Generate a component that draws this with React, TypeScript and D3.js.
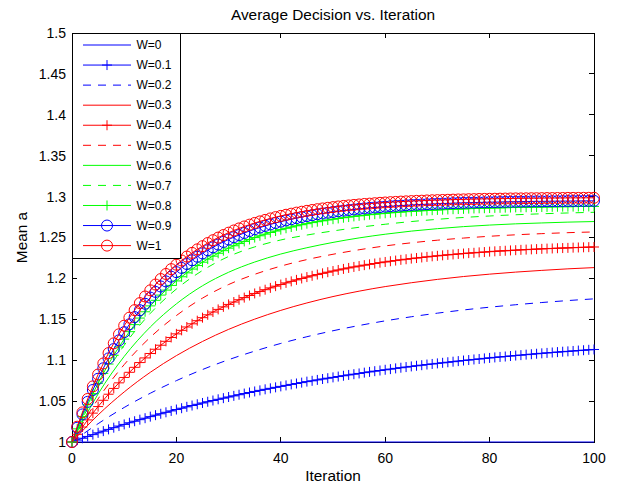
import React from "react";
import * as d3 from "d3";

// ---------- data ----------
const iterations = d3.range(0, 101);
const iterCoarse = d3.range(0, 101, 5);
const xTicks = [0, 20, 40, 60, 80, 100];
const yTicks = [1, 1.05, 1.1, 1.15, 1.2, 1.25, 1.3, 1.35, 1.4, 1.45, 1.5];
const yTickLabels = ["1", "1.05", "1.1", "1.15", "1.2", "1.25", "1.3", "1.35", "1.4", "1.45", "1.5"];
const xTickLabels = ["0", "20", "40", "60", "80", "100"];
const legendLabels = ["W=0", "W=0.1", "W=0.2", "W=0.3", "W=0.4", "W=0.5", "W=0.6", "W=0.7", "W=0.8", "W=0.9", "W=1"];

const w00 = [1, 1, 1, 1, 1, 1, 1, 1, 1, 1, 1, 1, 1, 1, 1, 1, 1, 1, 1, 1, 1];
const w02 = [1.0000, 1.0224, 1.0422, 1.0596, 1.0750, 1.0886, 1.1006, 1.1111, 1.1205, 1.1287, 1.1360, 1.1424, 1.1481, 1.1531, 1.1575, 1.1614, 1.1648, 1.1678, 1.1705, 1.1729, 1.1750];
const w03 = [1.0000, 1.0331, 1.0612, 1.0852, 1.1056, 1.1229, 1.1377, 1.1502, 1.1609, 1.1700, 1.1778, 1.1844, 1.1900, 1.1947, 1.1988, 1.2023, 1.2052, 1.2077, 1.2098, 1.2117, 1.2132];
const w05 = [1.0000, 1.0527, 1.0946, 1.1280, 1.1546, 1.1759, 1.1925, 1.2050, 1.2150, 1.2230, 1.2295, 1.2350, 1.2397, 1.2435, 1.2467, 1.2493, 1.2515, 1.2533, 1.2547, 1.2559, 1.2568];
const w06 = [1.0000, 1.0587, 1.1046, 1.1406, 1.1689, 1.1910, 1.2075, 1.2200, 1.2298, 1.2375, 1.2440, 1.2495, 1.2540, 1.2578, 1.2608, 1.2633, 1.2652, 1.2667, 1.2678, 1.2688, 1.2695];
const w07 = [1.0000, 1.0670, 1.1182, 1.1572, 1.1870, 1.2097, 1.2268, 1.2385, 1.2470, 1.2530, 1.2580, 1.2625, 1.2662, 1.2695, 1.2722, 1.2745, 1.2763, 1.2778, 1.2790, 1.2800, 1.2808];

const w01 = [1.0000, 1.0023, 1.0046, 1.0068, 1.0090, 1.0112, 1.0133, 1.0154, 1.0175, 1.0195,
  1.0215, 1.0235, 1.0254, 1.0273, 1.0291, 1.0310, 1.0328, 1.0345, 1.0363, 1.0380,
  1.0397, 1.0413, 1.0430, 1.0446, 1.0461, 1.0477, 1.0492, 1.0507, 1.0522, 1.0536,
  1.0550, 1.0564, 1.0578, 1.0592, 1.0605, 1.0618, 1.0631, 1.0644, 1.0656, 1.0668,
  1.0680, 1.0692, 1.0704, 1.0715, 1.0726, 1.0738, 1.0748, 1.0759, 1.0770, 1.0780,
  1.0790, 1.0800, 1.0810, 1.0820, 1.0829, 1.0838, 1.0848, 1.0857, 1.0866, 1.0874,
  1.0883, 1.0891, 1.0900, 1.0908, 1.0916, 1.0924, 1.0932, 1.0939, 1.0947, 1.0954,
  1.0961, 1.0968, 1.0975, 1.0982, 1.0989, 1.0996, 1.1002, 1.1009, 1.1015, 1.1022,
  1.1028, 1.1034, 1.1040, 1.1045, 1.1051, 1.1057, 1.1062, 1.1068, 1.1073, 1.1079,
  1.1084, 1.1089, 1.1094, 1.1099, 1.1104, 1.1108, 1.1113, 1.1118, 1.1122, 1.1127,
  1.1131];

const w04 = [1.0000, 1.0094, 1.0183, 1.0270, 1.0353, 1.0433, 1.0510, 1.0584, 1.0655, 1.0723,
  1.0789, 1.0852, 1.0913, 1.0971, 1.1028, 1.1082, 1.1134, 1.1183, 1.1231, 1.1278,
  1.1322, 1.1365, 1.1406, 1.1445, 1.1483, 1.1520, 1.1555, 1.1589, 1.1621, 1.1652,
  1.1682, 1.1711, 1.1739, 1.1765, 1.1791, 1.1816, 1.1839, 1.1862, 1.1884, 1.1905,
  1.1925, 1.1945, 1.1964, 1.1982, 1.1999, 1.2016, 1.2032, 1.2047, 1.2062, 1.2076,
  1.2090, 1.2103, 1.2116, 1.2128, 1.2140, 1.2151, 1.2162, 1.2172, 1.2182, 1.2192,
  1.2201, 1.2210, 1.2218, 1.2227, 1.2234, 1.2242, 1.2249, 1.2256, 1.2263, 1.2270,
  1.2276, 1.2282, 1.2288, 1.2293, 1.2299, 1.2304, 1.2309, 1.2313, 1.2318, 1.2322,
  1.2327, 1.2331, 1.2335, 1.2338, 1.2342, 1.2345, 1.2349, 1.2352, 1.2355, 1.2358,
  1.2361, 1.2364, 1.2366, 1.2369, 1.2371, 1.2373, 1.2376, 1.2378, 1.2380, 1.2382,
  1.2384];

const w08 = [1.0000, 1.0161, 1.0312, 1.0455, 1.0591, 1.0718, 1.0839, 1.0953, 1.1061, 1.1162,
  1.1258, 1.1349, 1.1435, 1.1515, 1.1592, 1.1664, 1.1732, 1.1796, 1.1857, 1.1914,
  1.1969, 1.2020, 1.2068, 1.2114, 1.2157, 1.2198, 1.2236, 1.2272, 1.2307, 1.2339,
  1.2370, 1.2399, 1.2426, 1.2452, 1.2476, 1.2499, 1.2521, 1.2541, 1.2561, 1.2579,
  1.2596, 1.2613, 1.2628, 1.2643, 1.2656, 1.2669, 1.2682, 1.2693, 1.2704, 1.2714,
  1.2724, 1.2733, 1.2742, 1.2750, 1.2758, 1.2765, 1.2772, 1.2779, 1.2785, 1.2791,
  1.2796, 1.2802, 1.2807, 1.2811, 1.2816, 1.2820, 1.2824, 1.2827, 1.2831, 1.2834,
  1.2837, 1.2840, 1.2843, 1.2846, 1.2848, 1.2850, 1.2853, 1.2855, 1.2857, 1.2858,
  1.2860, 1.2862, 1.2863, 1.2865, 1.2866, 1.2868, 1.2869, 1.2870, 1.2871, 1.2872,
  1.2873, 1.2874, 1.2875, 1.2876, 1.2877, 1.2877, 1.2878, 1.2879, 1.2879, 1.2880,
  1.2880];

const w09 = [1.0000, 1.0174, 1.0337, 1.0491, 1.0636, 1.0773, 1.0901, 1.1022, 1.1136, 1.1243,
  1.1343, 1.1438, 1.1527, 1.1611, 1.1690, 1.1765, 1.1835, 1.1901, 1.1963, 1.2021,
  1.2076, 1.2128, 1.2176, 1.2222, 1.2265, 1.2306, 1.2344, 1.2380, 1.2414, 1.2446,
  1.2476, 1.2504, 1.2530, 1.2555, 1.2579, 1.2601, 1.2622, 1.2641, 1.2660, 1.2677,
  1.2694, 1.2709, 1.2723, 1.2737, 1.2750, 1.2762, 1.2773, 1.2784, 1.2794, 1.2803,
  1.2812, 1.2821, 1.2829, 1.2836, 1.2843, 1.2850, 1.2856, 1.2862, 1.2867, 1.2872,
  1.2877, 1.2882, 1.2886, 1.2890, 1.2894, 1.2898, 1.2901, 1.2904, 1.2907, 1.2910,
  1.2913, 1.2915, 1.2917, 1.2920, 1.2922, 1.2924, 1.2926, 1.2927, 1.2929, 1.2930,
  1.2932, 1.2933, 1.2934, 1.2936, 1.2937, 1.2938, 1.2939, 1.2940, 1.2941, 1.2942,
  1.2942, 1.2943, 1.2944, 1.2944, 1.2945, 1.2946, 1.2946, 1.2947, 1.2947, 1.2948,
  1.2948];

const w10 = [1.0000, 1.0187, 1.0362, 1.0526, 1.0680, 1.0825, 1.0960, 1.1087, 1.1206, 1.1317,
  1.1422, 1.1520, 1.1612, 1.1698, 1.1779, 1.1854, 1.1925, 1.1992, 1.2054, 1.2113,
  1.2168, 1.2219, 1.2267, 1.2312, 1.2355, 1.2394, 1.2432, 1.2467, 1.2499, 1.2530,
  1.2559, 1.2586, 1.2611, 1.2635, 1.2657, 1.2678, 1.2697, 1.2715, 1.2733, 1.2749,
  1.2764, 1.2778, 1.2791, 1.2804, 1.2815, 1.2826, 1.2836, 1.2846, 1.2855, 1.2863,
  1.2871, 1.2879, 1.2886, 1.2892, 1.2898, 1.2904, 1.2910, 1.2914, 1.2919, 1.2924,
  1.2928, 1.2932, 1.2935, 1.2939, 1.2942, 1.2945, 1.2948, 1.2950, 1.2953, 1.2955,
  1.2957, 1.2959, 1.2961, 1.2963, 1.2965, 1.2966, 1.2968, 1.2969, 1.2971, 1.2972,
  1.2973, 1.2974, 1.2975, 1.2976, 1.2977, 1.2978, 1.2978, 1.2979, 1.2980, 1.2980,
  1.2981, 1.2982, 1.2982, 1.2983, 1.2983, 1.2984, 1.2984, 1.2984, 1.2985, 1.2985,
  1.2985];

// ---------- styles ----------
const BLUE = "#0000ff";
const RED = "#ff0000";
const GREEN = "#00ff00";
const FONT = "'Liberation Sans', Arial, Helvetica, sans-serif";

type Series = { label: string; color: string; dash: string | null; marker: "none" | "plus" | "circle"; xs: number[]; ys: number[] };

const seriesList: Series[] = [
  { label: legendLabels[0], color: BLUE, dash: null, marker: "none", xs: iterCoarse, ys: w00 },
  { label: legendLabels[1], color: BLUE, dash: null, marker: "plus", xs: iterations, ys: w01 },
  { label: legendLabels[2], color: BLUE, dash: "8,7", marker: "none", xs: iterCoarse, ys: w02 },
  { label: legendLabels[3], color: RED, dash: null, marker: "none", xs: iterCoarse, ys: w03 },
  { label: legendLabels[4], color: RED, dash: null, marker: "plus", xs: iterations, ys: w04 },
  { label: legendLabels[5], color: RED, dash: "8,7", marker: "none", xs: iterCoarse, ys: w05 },
  { label: legendLabels[6], color: GREEN, dash: null, marker: "none", xs: iterCoarse, ys: w06 },
  { label: legendLabels[7], color: GREEN, dash: "8,7", marker: "none", xs: iterCoarse, ys: w07 },
  { label: legendLabels[8], color: GREEN, dash: null, marker: "plus", xs: iterations, ys: w08 },
  { label: legendLabels[9], color: BLUE, dash: null, marker: "circle", xs: iterations, ys: w09 },
  { label: legendLabels[10], color: RED, dash: null, marker: "circle", xs: iterations, ys: w10 },
];

const W = 624;
const H = 486;
const X0 = 72, X1 = 594, Y0 = 442, Y1 = 33;

const x = d3.scaleLinear().domain([0, 100]).range([X0, X1]);
const y = d3.scaleLinear().domain([1, 1.5]).range([Y0, Y1]);

const PLUS = 5;
const CIRC = 5.5;

function Marker({ kind, cx, cy, color }: { kind: string; cx: number; cy: number; color: string }) {
  if (kind === "plus") {
    return (
      <g stroke={color} strokeWidth={1}>
        <line x1={cx - PLUS} x2={cx + PLUS} y1={cy} y2={cy} />
        <line x1={cx} x2={cx} y1={cy - PLUS} y2={cy + PLUS} />
      </g>
    );
  }
  if (kind === "circle") {
    return <circle cx={cx} cy={cy} r={CIRC} fill="none" stroke={color} strokeWidth={1} />;
  }
  return null;
}

export default function App() {
  const legX = X0, legY = Y1, legW = 108, legH = 225;
  const rowH = 20.06;
  return (
    <svg width={W} height={H} viewBox={`0 0 ${W} ${H}`} style={{ position: "absolute", left: 0, top: 0, display: "block" }} fontFamily={FONT}>
      <rect x={0} y={0} width={W} height={H} fill="#fff" />
      <text x={(X0 + X1) / 2} y={20} textAnchor="middle" fontSize={15.4} fill="#000">Average Decision vs. Iteration</text>

      {/* axes box and ticks */}
      <g stroke="#000" strokeWidth={1} shapeRendering="crispEdges" fill="none">
        <rect x={X0} y={Y1} width={X1 - X0} height={Y0 - Y1} />
        {xTicks.map((t) => (
          <g key={"xt" + t}>
            <line x1={x(t)} x2={x(t)} y1={Y0} y2={Y0 - 5} />
            <line x1={x(t)} x2={x(t)} y1={Y1} y2={Y1 + 5} />
          </g>
        ))}
        {yTicks.map((t) => (
          <g key={"yt" + t}>
            <line x1={X0} x2={X0 + 5} y1={y(t)} y2={y(t)} />
            <line x1={X1} x2={X1 - 5} y1={y(t)} y2={y(t)} />
          </g>
        ))}
      </g>
      {xTicks.map((t, i) => (
        <text key={"xl" + t} x={x(t)} y={463} textAnchor="middle" fontSize={14} fill="#000">{xTickLabels[i]}</text>
      ))}
      {yTicks.map((t, i) => (
        <text key={"yl" + t} x={X0 - 6} y={y(t)} dy="0.35em" textAnchor="end" fontSize={14} fill="#000">{yTickLabels[i]}</text>
      ))}
      <text x={(X0 + X1) / 2} y={481} textAnchor="middle" fontSize={15.4} fill="#000">Iteration</text>
      <text transform={`translate(27, ${(Y0 + Y1) / 2}) rotate(-90)`} textAnchor="middle" fontSize={15.4} fill="#000">Mean a</text>

      {/* series */}
      {seriesList.map((s, si) => {
        const pts = s.xs.map((t, i) => [t, s.ys[i]] as [number, number]);
        const lineGen = d3.line<[number, number]>().x((d) => x(d[0])).y((d) => y(d[1]));
        if (s.xs.length < 50) lineGen.curve(d3.curveMonotoneX);
        return (
          <g key={"s" + si}>
            <path d={lineGen(pts) || ""} fill="none" stroke={s.color} strokeWidth={1} strokeDasharray={s.dash || undefined} />
            {s.marker !== "none" && pts.map((p, i) => (
              <Marker key={i} kind={s.marker} cx={x(p[0])} cy={y(p[1])} color={s.color} />
            ))}
          </g>
        );
      })}

      {/* legend */}
      <rect x={legX + 0.5} y={legY + 0.5} width={legW} height={legH} fill="#fff" stroke="#000" strokeWidth={1} shapeRendering="crispEdges" />
      {seriesList.map((s, i) => {
        const cy = legY + 12 + i * rowH;
        return (
          <g key={"lg" + i}>
            <line x1={83} x2={131} y1={cy} y2={cy} stroke={s.color} strokeWidth={1} strokeDasharray={s.dash || undefined} />
            <Marker kind={s.marker} cx={107} cy={cy} color={s.color} />
            <text x={136.5} y={cy} dy="0.35em" fontSize={12} fill="#000">{s.label}</text>
          </g>
        );
      })}
    </svg>
  );
}
